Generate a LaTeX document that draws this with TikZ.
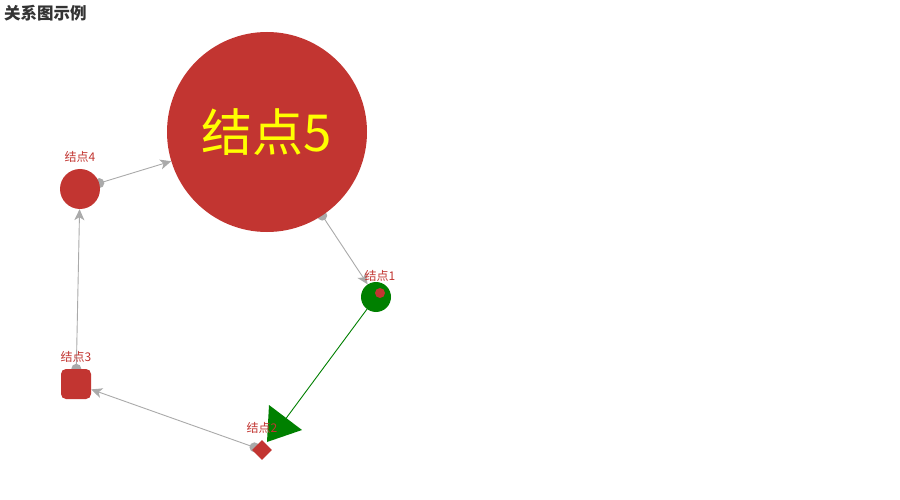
\documentclass[tikz,border=0pt]{standalone}
\usepackage{fontspec}
\setmainfont{Noto Sans CJK SC}
\usetikzlibrary{arrows.meta,shapes.geometric}
\definecolor{ecred}{HTML}{C23531}
\definecolor{edgegray}{HTML}{AAAAAA}
\definecolor{titlegray}{HTML}{333333}
\definecolor{ecgreen}{HTML}{008000}
\definecolor{ecyellow}{HTML}{FFFF00}
\pgfdeclarelayer{bg}
\pgfsetlayers{bg,main}
\tikzset{
  rednode/.style={fill=ecred, draw=none, inner sep=0pt},
  lab/.style={text=ecred, font=\fontsize{12}{12}\selectfont, inner sep=0pt},
  grayedge/.style={draw=edgegray, line width=0.9pt, -{Stealth[length=11pt,width=10pt,inset=3pt]}},
  dot/.style={fill=edgegray, draw=none},
}
\begin{document}
\begin{tikzpicture}[x=1pt,y=-1pt]
\useasboundingbox (0,0) rectangle (900,500);

% title
\node[anchor=west, inner sep=0pt, text=titlegray, font=\bfseries\fontsize{16.5}{17}\selectfont] (title) at (4,13) {关系图示例};

% nodes
\node[rednode, circle, minimum size=200pt, text=ecyellow, font=\fontsize{51}{51}\selectfont] (n5) at (267,132) {结点5};
\node[rednode, circle, minimum size=40pt] (n4) at (80,189) {};
\node[circle, fill=ecgreen, inner sep=0pt, minimum size=30pt] (n1) at (376,297) {};
\node[rednode, circle, minimum size=10pt] (n1dot) at (380,293) {};
\node[rednode, rectangle, rounded corners=5pt, minimum size=30pt] (n3) at (76,384) {};
\node[rednode, diamond, minimum size=20pt] (n2) at (262,450) {};

% edges (below nodes)
\begin{pgfonlayer}{bg}
  \fill[white] (0,0) rectangle (900,500);
  \draw[grayedge] (n5) -- (n1) coordinate[pos=0] (s51);
  \fill[dot] (s51) circle (5pt);
  \draw[grayedge] (n4) -- (n5) coordinate[pos=0] (s45);
  \fill[dot] (s45) circle (5pt);
  \draw[grayedge] (n3) -- (n4) coordinate[pos=0] (s34);
  \fill[dot] (s34) circle (5pt);
  \draw[grayedge] (n2) -- (n3) coordinate[pos=0] (s23);
  \fill[dot] (s23) circle (5pt);
\end{pgfonlayer}

% green edge 1 -> 2
\coordinate (gend) at (281.5,424.5);
\draw[ecgreen, line width=0.9pt] (n1) -- (gend);
\fill[ecgreen] (269,405) -- (302,430) -- (267,442) -- cycle;

% labels
\node[lab] (l4) at (80,157) {结点4};
\node[lab] (l1) at (380,276) {结点1};
\node[lab] (l3) at (76,357) {结点3};
\node[lab] (l2) at (262,428) {结点2};
\end{tikzpicture}
\end{document}
